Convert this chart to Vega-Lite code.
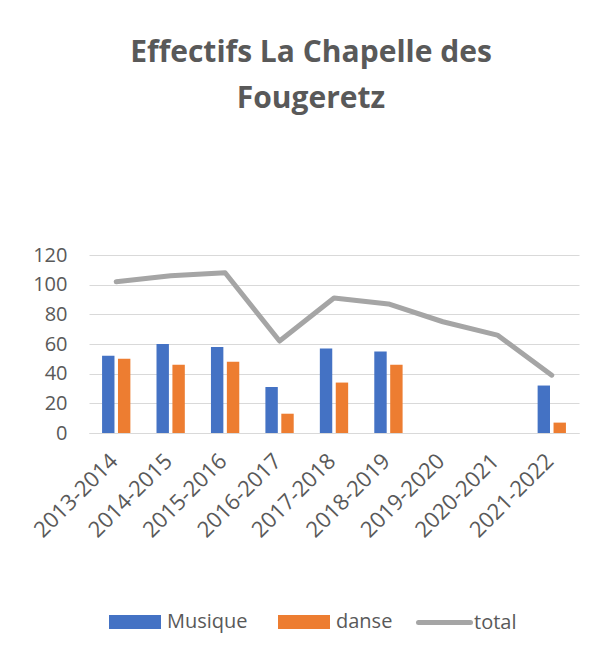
{
  "$schema": "https://vega.github.io/schema/vega-lite/v6.json",
  "autosize": {"type": "none"},
  "width": 490,
  "height": 178,
  "padding": {"left": 89, "top": 255, "right": 13, "bottom": 223},
  "background": "white",
  "config": {
    "view": {"stroke": null},
    "font": "Open Sans",
    "axis": {"labelFont": "Open Sans", "labelColor": "#595959", "labelFontSize": 20, "gridColor": "#D9D9D9", "domainColor": "#D9D9D9", "ticks": false, "title": null},
    "legend": {"labelFont": "Open Sans", "labelColor": "#595959", "labelFontSize": 20}
  },
  "title": {
    "text": ["Effectifs La Chapelle des", "Fougeretz"],
    "font": "Open Sans",
    "fontSize": 30,
    "fontWeight": "bold",
    "color": "#595959",
    "lineHeight": 46,
    "anchor": "middle",
    "frame": "group",
    "dx": -23,
    "offset": 131
  },
  "data": {
    "values": [
      {"annee": "2013-2014", "serie": "Musique", "effectif": 52},
      {"annee": "2013-2014", "serie": "danse", "effectif": 50},
      {"annee": "2013-2014", "serie": "total", "effectif": 102},
      {"annee": "2014-2015", "serie": "Musique", "effectif": 60},
      {"annee": "2014-2015", "serie": "danse", "effectif": 46},
      {"annee": "2014-2015", "serie": "total", "effectif": 106},
      {"annee": "2015-2016", "serie": "Musique", "effectif": 58},
      {"annee": "2015-2016", "serie": "danse", "effectif": 48},
      {"annee": "2015-2016", "serie": "total", "effectif": 108},
      {"annee": "2016-2017", "serie": "Musique", "effectif": 31},
      {"annee": "2016-2017", "serie": "danse", "effectif": 13},
      {"annee": "2016-2017", "serie": "total", "effectif": 62},
      {"annee": "2017-2018", "serie": "Musique", "effectif": 57},
      {"annee": "2017-2018", "serie": "danse", "effectif": 34},
      {"annee": "2017-2018", "serie": "total", "effectif": 91},
      {"annee": "2018-2019", "serie": "Musique", "effectif": 55},
      {"annee": "2018-2019", "serie": "danse", "effectif": 46},
      {"annee": "2018-2019", "serie": "total", "effectif": 87},
      {"annee": "2019-2020", "serie": "total", "effectif": 75},
      {"annee": "2020-2021", "serie": "total", "effectif": 66},
      {"annee": "2021-2022", "serie": "Musique", "effectif": 32},
      {"annee": "2021-2022", "serie": "danse", "effectif": 7},
      {"annee": "2021-2022", "serie": "total", "effectif": 39}
    ]
  },
  "encoding": {
    "x": {
      "field": "annee",
      "type": "nominal",
      "sort": null,
      "scale": {"domain": ["2013-2014","2014-2015","2015-2016","2016-2017","2017-2018","2018-2019","2019-2020","2020-2021","2021-2022"], "paddingInner": 0.48, "paddingOuter": 0.24},
      "axis": {"labelAngle": -45, "labelPadding": 17, "labelOffset": -9, "labelFontSize": 22, "grid": false, "domain": true}
    },
    "y": {
      "field": "effectif",
      "type": "quantitative",
      "scale": {"domain": [0, 120], "nice": false},
      "axis": {"values": [0, 20, 40, 60, 80, 100, 120], "domain": false, "grid": true, "labelPadding": 22}
    }
  },
  "layer": [
    {
      "transform": [{"filter": "datum.serie !== 'total'"}],
      "mark": {"type": "bar"},
      "encoding": {
        "xOffset": {"field": "serie", "type": "nominal", "scale": {"domain": ["Musique", "danse"], "paddingInner": 0.22}},
        "color": {
          "field": "serie",
          "type": "nominal",
          "scale": {"domain": ["Musique", "danse"], "range": ["#4472C4", "#ED7D31"]},
          "legend": {
            "title": null,
            "orient": "none",
            "direction": "horizontal",
            "legendX": 20,
            "legendY": 341,
            "symbolType": "M-1,-0.27H1V0.27H-1Z",
            "symbolSize": 2704,
            "symbolStrokeWidth": 0,
            "symbolOpacity": 1,
            "labelOffset": 6,
            "columnPadding": 30
          }
        }
      }
    },
    {
      "transform": [{"filter": "datum.serie === 'total'"}],
      "mark": {"type": "line", "strokeWidth": 5, "strokeCap": "round", "strokeJoin": "round"},
      "encoding": {
        "stroke": {
          "field": "serie",
          "type": "nominal",
          "scale": {"domain": ["total"], "range": ["#A5A5A5"]},
          "legend": {
            "title": null,
            "orient": "none",
            "legendX": 327,
            "legendY": 339,
            "symbolType": "stroke",
            "symbolSize": 2704,
            "symbolStrokeWidth": 5,
            "labelOffset": 1,
            "encode": {"symbols": {"update": {"strokeCap": {"value": "round"}}}}
          }
        }
      }
    }
  ]
}
